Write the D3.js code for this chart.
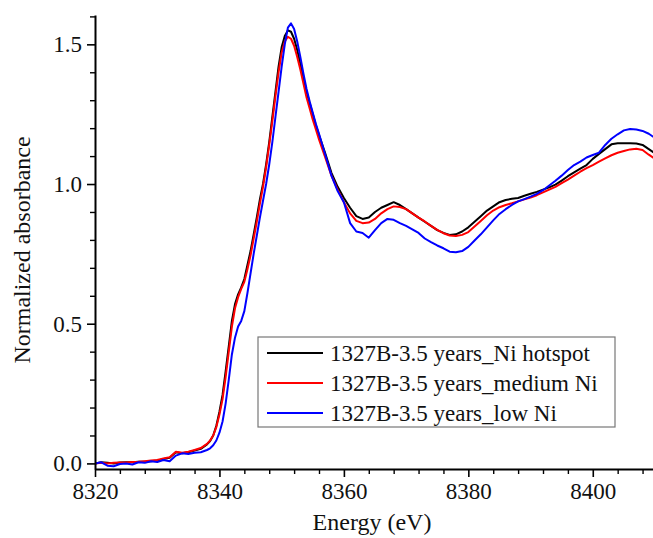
<!DOCTYPE html>
<html>
<head>
<meta charset="utf-8">
<script src="https://cdn.jsdelivr.net/npm/d3@7"></script>
<style>
  body { margin: 0; background: #fff; }
  svg, svg text { font-family: "Liberation Serif", "Tinos", "Times New Roman", Times, "DejaVu Serif", serif !important; }
</style>
</head>
<body>
<div id="chart"></div>
<script>
// energy grid (eV)
const energy = [
  8320, 8321, 8322, 8323, 8324, 8325, 8326, 8327, 8328, 8329,
  8330, 8331, 8332, 8333, 8334, 8335, 8336, 8337, 8338,
  8338.5, 8339, 8339.5, 8340, 8340.5, 8341, 8341.5, 8342, 8342.5, 8343,
  8343.5, 8344, 8344.5, 8345, 8345.5, 8346, 8346.5, 8347, 8347.5, 8348,
  8348.5, 8349, 8349.5, 8350, 8350.5, 8351, 8351.5, 8352, 8352.5, 8353,
  8353.5, 8354, 8354.5, 8355, 8355.5, 8356,
  8357, 8358, 8359, 8360, 8361, 8362, 8363, 8364, 8365, 8366,
  8367, 8368, 8369, 8370, 8371, 8372, 8373, 8374, 8375, 8376,
  8377, 8378, 8379, 8380, 8381, 8382, 8383, 8384, 8385, 8386,
  8387, 8388, 8389, 8390, 8391, 8392, 8393, 8394, 8395, 8396,
  8397, 8398, 8399, 8400, 8401, 8402, 8403, 8404, 8405, 8406,
  8407, 8408, 8409, 8410
];

const hotspot = [
  0.000, 0.004, 0.002, 0.000, 0.003, 0.004, 0.004, 0.006, 0.006, 0.008,
  0.010, 0.016, 0.020, 0.040, 0.036, 0.040, 0.046, 0.052, 0.068,
  0.080, 0.100, 0.135, 0.185, 0.245, 0.330, 0.420, 0.510, 0.570, 0.605,
  0.630, 0.660, 0.710, 0.760, 0.820, 0.880, 0.945, 1.000, 1.070, 1.150,
  1.240, 1.330, 1.420, 1.490, 1.530, 1.550, 1.545, 1.520, 1.480, 1.430,
  1.380, 1.330, 1.290, 1.250, 1.210, 1.175,
  1.110, 1.040, 0.990, 0.950, 0.915, 0.885, 0.875, 0.880, 0.900, 0.915,
  0.925, 0.935, 0.925, 0.910, 0.895, 0.880, 0.865, 0.850, 0.835, 0.825,
  0.818, 0.820, 0.830, 0.845, 0.865, 0.885, 0.905, 0.920, 0.935, 0.943,
  0.947, 0.950, 0.958, 0.965, 0.972, 0.980, 0.988, 0.998, 1.012, 1.028,
  1.042, 1.055, 1.068, 1.090, 1.108, 1.125, 1.142, 1.146, 1.146, 1.146,
  1.145, 1.140, 1.125, 1.110
];

const medium = [
  0.000, 0.002, 0.000, 0.002, 0.003, 0.003, 0.005, 0.006, 0.008, 0.010,
  0.012, 0.018, 0.022, 0.042, 0.038, 0.042, 0.048, 0.055, 0.070,
  0.082, 0.100, 0.130, 0.175, 0.230, 0.310, 0.400, 0.490, 0.555, 0.595,
  0.625, 0.650, 0.695, 0.745, 0.805, 0.865, 0.930, 0.990, 1.060, 1.140,
  1.225, 1.315, 1.400, 1.470, 1.510, 1.527, 1.520, 1.495, 1.455, 1.410,
  1.360, 1.310, 1.270, 1.230, 1.195, 1.160,
  1.095, 1.030, 0.980, 0.935, 0.895, 0.868, 0.860, 0.862, 0.875, 0.895,
  0.910, 0.920, 0.918, 0.910, 0.895, 0.880, 0.866, 0.850, 0.836, 0.824,
  0.816, 0.814, 0.818, 0.828, 0.848, 0.868, 0.888, 0.905, 0.917, 0.925,
  0.931, 0.938, 0.945, 0.952, 0.960, 0.970, 0.980, 0.990, 1.003, 1.016,
  1.030, 1.044, 1.057, 1.068, 1.080, 1.092, 1.103, 1.112, 1.118, 1.124,
  1.126, 1.122, 1.105, 1.090
];

const low = [
  0.000, 0.004, -0.008, -0.010, -0.002, 0.000, -0.004, 0.004, 0.002, 0.008,
  0.005, 0.012, 0.008, 0.028, 0.036, 0.034, 0.038, 0.040, 0.048,
  0.054, 0.065, 0.082, 0.110, 0.150, 0.215, 0.300, 0.390, 0.450, 0.490,
  0.510, 0.545, 0.610, 0.680, 0.750, 0.815, 0.880, 0.940, 1.000, 1.070,
  1.150, 1.240, 1.330, 1.420, 1.500, 1.560, 1.575, 1.555, 1.510, 1.455,
  1.395, 1.340, 1.295, 1.255, 1.215, 1.180,
  1.105, 1.030, 0.975, 0.935, 0.860, 0.830, 0.825, 0.808, 0.835, 0.860,
  0.875, 0.872, 0.860, 0.850, 0.838, 0.825, 0.805, 0.792, 0.780, 0.770,
  0.758, 0.756, 0.760, 0.775, 0.798, 0.820, 0.845, 0.870, 0.893, 0.910,
  0.925, 0.938, 0.946, 0.955, 0.965, 0.978, 0.995, 1.012, 1.030, 1.050,
  1.068, 1.080, 1.095, 1.104, 1.112, 1.140, 1.162, 1.178, 1.192, 1.197,
  1.195, 1.190, 1.180, 1.165
];

const seriesNames = ["1327B-3.5 years_Ni hotspot", "1327B-3.5 years_medium Ni", "1327B-3.5 years_low Ni"];
const seriesColors = ["#000000", "#ff0000", "#0000ff"];
const xMajorTicks = [8320, 8340, 8360, 8380, 8400];
const xMinorTicks = [8324, 8328, 8332, 8336, 8344, 8348, 8352, 8356, 8364, 8368, 8372, 8376, 8384, 8388, 8392, 8396, 8404, 8408];
const yMajorTicks = [0, 0.5, 1.0, 1.5];
const yMinorTicks = [0.1, 0.2, 0.3, 0.4, 0.6, 0.7, 0.8, 0.9, 1.1, 1.2, 1.3, 1.4, 1.6];

const width = 653, height = 538;
const serif = "'Liberation Serif', Tinos, 'Times New Roman', Times, 'DejaVu Serif', serif";
let margin = ({top: 15, right: -2, bottom: 69, left: 95});

const svg = d3.select("#chart")
  .append("svg")
  .attr("width", width)
  .attr("height", height)
  .attr("font-family", serif);

let x = d3.scaleLinear()
  .domain([8320, 8410])
  .range([margin.left, width - margin.right]);

let y = d3.scaleLinear()
  .domain([-0.02, 1.605])
  .range([height - margin.bottom, margin.top]);

const series = [hotspot, medium, low].map((vals, i) => ({
  name: seriesNames[i],
  color: seriesColors[i],
  values: energy.map((e, j) => ({e: e, v: vals[j]}))
}));

svg.append("clipPath")
  .attr("id", "plot-clip")
  .append("rect")
  .attr("x", margin.left)
  .attr("y", 0)
  .attr("width", width - margin.left)
  .attr("height", height - margin.bottom);

let line = d3.line()
  .x(d => x(d.e))
  .y(d => y(d.v));

svg.append("g")
  .attr("clip-path", "url(#plot-clip)")
  .selectAll("path")
  .data(series)
  .enter().append("path")
    .attr("fill", "none")
    .attr("stroke", d => d.color)
    .attr("stroke-width", 2)
    .attr("stroke-linejoin", "round")
    .attr("d", d => line(d.values));

// axes
let xAxis = g => g
  .attr("transform", `translate(0,${height - margin.bottom})`)
  .call(d3.axisBottom(x).tickValues(xMajorTicks).tickFormat(d3.format("d")).tickSize(8).tickSizeOuter(0).tickPadding(6))
  .attr("font-size", 23)
  .attr("font-family", serif)
  .call(g => g.select(".domain").attr("stroke-width", 2))
  .call(g => g.selectAll(".tick line").attr("stroke-width", 1.6))
  .call(g => g.selectAll(".tick text").attr("fill", "#111"));

let xMinor = g => g
  .attr("transform", `translate(0,${height - margin.bottom})`)
  .call(d3.axisBottom(x).tickValues(xMinorTicks).tickFormat("").tickSize(5).tickSizeOuter(0))
  .call(g => g.select(".domain").remove())
  .call(g => g.selectAll(".tick line").attr("stroke-width", 1.4));

let yAxis = g => g
  .attr("transform", `translate(${margin.left},0)`)
  .call(d3.axisLeft(y).tickValues(yMajorTicks).tickFormat(d3.format(".1f")).tickSize(8).tickSizeOuter(0).tickPadding(5))
  .attr("font-size", 23)
  .attr("font-family", serif)
  .call(g => g.select(".domain").attr("stroke-width", 2))
  .call(g => g.selectAll(".tick line").attr("stroke-width", 1.6))
  .call(g => g.selectAll(".tick text").attr("fill", "#111"));

let yMinor = g => g
  .attr("transform", `translate(${margin.left},0)`)
  .call(d3.axisLeft(y).tickValues(yMinorTicks).tickFormat("").tickSize(5).tickSizeOuter(0))
  .call(g => g.select(".domain").remove())
  .call(g => g.selectAll(".tick line").attr("stroke-width", 1.4));

svg.append("g").call(xMinor);
svg.append("g").call(yMinor);
svg.append("g").call(xAxis);
svg.append("g").call(yAxis);

svg.append("text")
  .attr("x", (margin.left + width) / 2 - 2)
  .attr("y", 530)
  .attr("text-anchor", "middle")
  .attr("font-size", 24)
  .attr("fill", "#111")
  .text("Energy (eV)");

svg.append("text")
  .attr("transform", "translate(30,250) rotate(-90)")
  .attr("text-anchor", "middle")
  .attr("font-size", 24)
  .attr("fill", "#111")
  .text("Normalized absorbance");

// legend
let legend = svg.append("g")
  .attr("transform", "translate(258,337)");

legend.append("rect")
  .attr("width", 357)
  .attr("height", 90)
  .attr("fill", "#fff")
  .attr("stroke", "#777")
  .attr("stroke-width", 1.2);

let rows = legend.selectAll(".row")
  .data(series)
  .enter().append("g")
    .attr("class", "row")
    .attr("transform", (d, i) => `translate(0,${16 + i * 30})`);

rows.append("line")
  .attr("x1", 9).attr("x2", 65)
  .attr("stroke", d => d.color)
  .attr("stroke-width", 2);

rows.append("text")
  .attr("x", 72)
  .attr("y", 8)
  .attr("font-size", 23)
  .attr("fill", "#111")
  .text(d => d.name);
</script>
</body>
</html>
